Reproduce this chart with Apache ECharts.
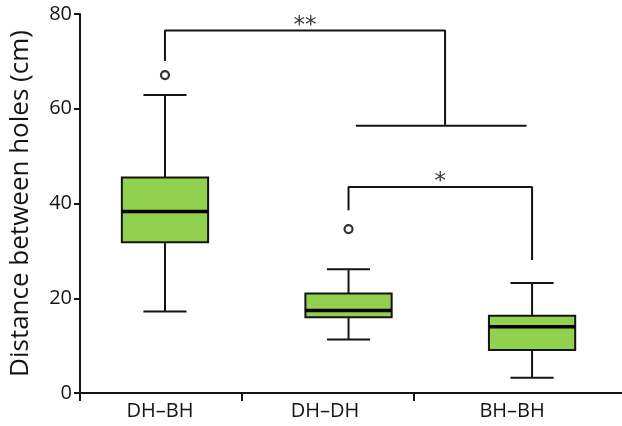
<!DOCTYPE html>
<html>
<head>
<meta charset="utf-8">
<script src="https://cdn.jsdelivr.net/npm/echarts@6/dist/echarts.min.js"></script>
<style>html,body{margin:0;padding:0;background:#fff}#c{width:622px;height:426px}</style>
</head>
<body>
<div id="c"></div>
<script>
// ---- data ----
const categories = ['DH\u2013BH', 'DH\u2013DH', 'BH\u2013BH'];
const lowWhisker = [17.2, 11.3, 3.2];
const q1 = [31.8, 16.0, 9.1];
const median = [38.3, 17.4, 14.0];
const q3 = [45.5, 21.0, 16.3];
const highWhisker = [62.9, 26.1, 23.2];
const outlierCategory = [0, 1];
const outlierValue = [67.1, 34.6];
const yTicks = [0, 20, 40, 60, 80];
const yTitle = 'Distance between holes (cm)';
// significance brackets (category index positions, y values)
const bracket1 = [[0.5, 70.1], [0.5, 76.5], [2.026, 76.5], [2.026, 56.4]];
const bracket1Base = [[1.54, 56.4], [2.47, 56.4]];
const bracket2 = [[1.5, 38.6], [1.5, 43.5], [2.5, 43.5], [2.5, 28.1]];
const sigMarks = [{pos: [1.263, 76.5], text: '**'}, {pos: [2.0, 43.5], text: '*'}];
// axis label / tick positions along the category scale
const xTickPos = [0.037, 0.92, 1.857];
const xLabelPos = [0.473, 1.372, 2.391];

const FONT = 'Open Sans';
const INK = '#141414';

const boxData = categories.map((c, i) => [i + 0.5, lowWhisker[i], q1[i], median[i], q3[i], highWhisker[i]]);
const outData = outlierCategory.map((ci, k) => [ci + 0.5, outlierValue[k]]);

const chart = echarts.init(document.getElementById('c'), null, {renderer: 'canvas'});
const lineStyle = {color: INK, width: 2};

chart.setOption({
  animation: false,
  grid: {left: 80, right: 0, top: 14, bottom: 33},
  xAxis: {
    type: 'value', min: 0.037, max: 2.99,
    splitLine: {show: false},
    axisLine: {show: true, onZero: false, lineStyle: {color: INK, width: 2}},
    axisTick: {show: true, length: 8, customValues: xTickPos, lineStyle: {color: INK, width: 2}},
    axisLabel: {
      customValues: xLabelPos, margin: 8, color: INK, fontFamily: FONT, fontSize: 20,
      formatter: v => { const i = xLabelPos.findIndex(p => Math.abs(p - v) < 1e-6); return i >= 0 ? categories[i] : ''; }
    }
  },
  yAxis: {
    type: 'value', min: 0, max: 80, interval: 20,
    name: yTitle, nameLocation: 'middle', nameGap: 46, nameRotate: 90,
    nameTextStyle: {color: INK, fontFamily: FONT, fontSize: 26},
    splitLine: {show: false},
    axisLine: {show: true, lineStyle: {color: INK, width: 2}},
    axisTick: {show: true, length: 6, lineStyle: {color: INK, width: 2}},
    axisLabel: {margin: 8, color: INK, fontFamily: FONT, fontSize: 20}
  },
  series: [
    {
      type: 'custom',
      data: boxData,
      renderItem: function (params, api) {
        const x = api.value(0);
        const pLow = api.coord([x, api.value(1)]);
        const pQ1 = api.coord([x, api.value(2)]);
        const pMed = api.coord([x, api.value(3)]);
        const pQ3 = api.coord([x, api.value(4)]);
        const pHigh = api.coord([x, api.value(5)]);
        const bw = api.size([1, 0])[0] * 0.47;
        const cw = bw / 2;
        const cx = pMed[0];
        const ls = {stroke: INK, lineWidth: 2};
        return {
          type: 'group',
          children: [
            {type: 'line', shape: {x1: cx, y1: pLow[1], x2: cx, y2: pQ1[1]}, style: ls},
            {type: 'line', shape: {x1: cx, y1: pQ3[1], x2: cx, y2: pHigh[1]}, style: ls},
            {type: 'line', shape: {x1: cx - cw / 2, y1: pLow[1], x2: cx + cw / 2, y2: pLow[1]}, style: ls},
            {type: 'line', shape: {x1: cx - cw / 2, y1: pHigh[1], x2: cx + cw / 2, y2: pHigh[1]}, style: ls},
            {type: 'rect', shape: {x: cx - bw / 2, y: pQ3[1], width: bw, height: pQ1[1] - pQ3[1]},
              style: {fill: '#92d050', stroke: INK, lineWidth: 2}},
            {type: 'line', shape: {x1: cx - bw / 2, y1: pMed[1], x2: cx + bw / 2, y2: pMed[1]},
              style: {stroke: '#000', lineWidth: 3.5}}
          ]
        };
      }
    },
    {
      type: 'scatter', data: outData, symbol: 'circle', symbolSize: 8,
      itemStyle: {color: '#fff', borderColor: '#000', borderWidth: 2.2}
    },
    {type: 'line', data: bracket1, symbol: 'none', lineStyle: lineStyle},
    {type: 'line', data: bracket1Base, symbol: 'none', lineStyle: lineStyle},
    {type: 'line', data: bracket2, symbol: 'none', lineStyle: lineStyle},
    {
      type: 'scatter', symbolSize: 0,
      data: sigMarks.map(m => ({value: m.pos, name: m.text})),
      label: {show: true, position: 'top', distance: -7, formatter: p => p.name,
        color: '#000', fontFamily: 'DejaVu Sans', fontSize: 23}
    }
  ]
});
</script>
</body>
</html>
